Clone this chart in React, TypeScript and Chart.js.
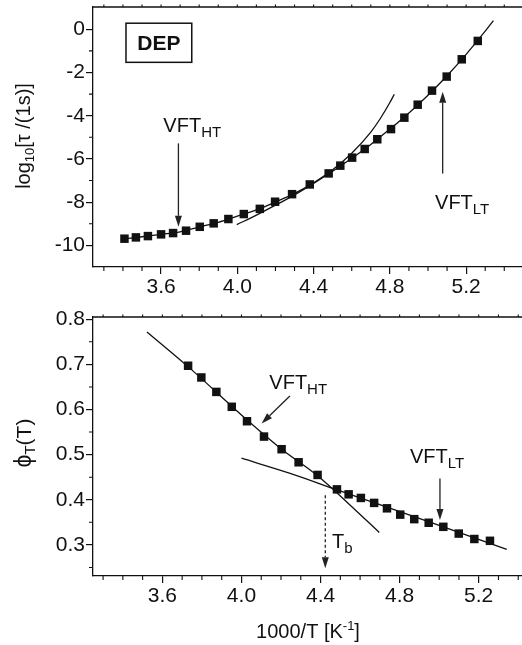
import React, { useEffect, useRef } from 'react';
import { Chart, registerables } from 'chart.js';
Chart.register(...registerables);

const FONT = '"Liberation Sans", Arial, Helvetica, sans-serif';
const INK = '#111';

// ---------- Top panel: log10 tau vs 1000/T ----------
const tauX = [3.408, 3.468, 3.531, 3.600, 3.663, 3.731, 3.803, 3.876, 3.953, 4.034, 4.118, 4.198, 4.287, 4.380, 4.479, 4.540, 4.602, 4.668, 4.734, 4.806, 4.876, 4.946, 5.021, 5.098, 5.177, 5.261];
const tauY = [-9.69, -9.63, -9.57, -9.49, -9.43, -9.32, -9.14, -8.98, -8.78, -8.55, -8.31, -7.98, -7.63, -7.18, -6.67, -6.31, -5.94, -5.54, -5.09, -4.62, -4.09, -3.49, -2.84, -2.19, -1.39, -0.54];
const vftHtTauX = [3.41, 3.5, 3.6, 3.7, 3.8, 3.9, 4.0, 4.1, 4.2, 4.3, 4.4, 4.5, 4.6, 4.7, 4.75, 4.8, 4.823];
const vftHtTauY = [-9.70, -9.60, -9.49, -9.37, -9.15, -8.93, -8.65, -8.36, -7.99, -7.59, -7.10, -6.50, -5.74, -4.76, -4.13, -3.39, -3.01];
const vftLtTauX = [3.997, 4.1, 4.2, 4.3, 4.4, 4.5, 4.6, 4.7, 4.8, 4.9, 5.0, 5.1, 5.2, 5.3, 5.343];
const vftLtTauY = [-9.04, -8.60, -8.14, -7.66, -7.13, -6.57, -5.97, -5.33, -4.62, -3.87, -3.05, -2.15, -1.16, -0.09, 0.40];
const topXMajor = [3.6, 4.0, 4.4, 4.8, 5.2];
const topXMinor = [3.3, 3.4, 3.5, 3.7, 3.8, 3.9, 4.1, 4.2, 4.3, 4.5, 4.6, 4.7, 4.9, 5.0, 5.1, 5.3, 5.4];
const topYMajor = [-10, -8, -6, -4, -2, 0];
const topYMinor = [-9, -7, -5, -3, -1];

// ---------- Bottom panel: phi_T(T) vs 1000/T ----------
const phiX = [3.730, 3.797, 3.873, 3.951, 4.028, 4.114, 4.203, 4.289, 4.385, 4.483, 4.542, 4.604, 4.671, 4.736, 4.803, 4.874, 4.947, 5.021, 5.099, 5.178, 5.257];
const phiY = [0.697, 0.671, 0.639, 0.606, 0.574, 0.540, 0.512, 0.483, 0.455, 0.423, 0.412, 0.404, 0.393, 0.381, 0.367, 0.357, 0.349, 0.340, 0.325, 0.313, 0.309];
const vftHtPhiX = [3.522, 3.73, 4.03, 4.2, 4.385, 4.55, 4.697];
const vftHtPhiY = [0.772, 0.695, 0.576, 0.513, 0.453, 0.388, 0.3275];
const vftLtPhiX = [4.0, 4.25, 4.464, 4.7, 5.0, 5.342];
const vftLtPhiY = [0.492, 0.458, 0.425, 0.389, 0.343, 0.290];
const botXMajor = [3.6, 4.0, 4.4, 4.8, 5.2];
const botXMinor = [3.3, 3.4, 3.5, 3.7, 3.8, 3.9, 4.1, 4.2, 4.3, 4.5, 4.6, 4.7, 4.9, 5.0, 5.1, 5.3, 5.4];
const botYMajor = [0.3, 0.4, 0.5, 0.6, 0.7, 0.8];
const botYMinor = [0.25, 0.35, 0.45, 0.55, 0.65, 0.75];

type Part = { t: string; size: number; dy?: number; bold?: boolean };

function drawRich(ctx: CanvasRenderingContext2D, x: number, y: number, parts: Part[], align: 'left' | 'center' = 'left') {
  ctx.save();
  ctx.textBaseline = 'alphabetic';
  ctx.textAlign = 'left';
  ctx.fillStyle = INK;
  let w = 0;
  for (const p of parts) {
    ctx.font = `${p.bold ? 'bold ' : ''}${p.size}px ${FONT}`;
    w += ctx.measureText(p.t).width;
  }
  let cx = align === 'center' ? x - w / 2 : x;
  for (const p of parts) {
    ctx.font = `${p.bold ? 'bold ' : ''}${p.size}px ${FONT}`;
    ctx.fillText(p.t, cx, y + (p.dy || 0));
    cx += ctx.measureText(p.t).width;
  }
  ctx.restore();
}

function arrow(ctx: CanvasRenderingContext2D, x1: number, y1: number, x2: number, y2: number, dashed = false) {
  const L = 11, H = 3.5;
  const dx = x2 - x1, dy = y2 - y1;
  const len = Math.hypot(dx, dy);
  const ux = dx / len, uy = dy / len;
  const bx = x2 - ux * L, by = y2 - uy * L;
  ctx.save();
  ctx.strokeStyle = '#222';
  ctx.fillStyle = '#222';
  ctx.lineWidth = 1.3;
  if (dashed) ctx.setLineDash([3, 2.5]);
  ctx.beginPath();
  ctx.moveTo(x1, y1);
  ctx.lineTo(bx, by);
  ctx.stroke();
  ctx.setLineDash([]);
  ctx.beginPath();
  ctx.moveTo(x2, y2);
  ctx.lineTo(bx - uy * H, by + ux * H);
  ctx.lineTo(bx + uy * H, by - ux * H);
  ctx.closePath();
  ctx.fill();
  ctx.restore();
}

function frameAndMinor(xMinor: number[], yMinor: number[], xAll: number[]) {
  return {
    id: 'frameMinor',
    afterDraw(chart: any) {
      const { ctx, chartArea: a, scales } = chart;
      const xs = scales.x, ys = scales.y;
      ctx.save();
      ctx.strokeStyle = INK;
      ctx.lineWidth = 1.3;
      ctx.beginPath();
      ctx.moveTo(a.left, a.top);
      ctx.lineTo(a.right + 2, a.top);
      ctx.stroke();
      ctx.lineWidth = 1.1;
      ctx.beginPath();
      for (const v of xMinor) {
        const p = xs.getPixelForValue(v);
        ctx.moveTo(p, a.bottom);
        ctx.lineTo(p, a.bottom + 4);
      }
      for (const v of xAll) {
        const p = xs.getPixelForValue(v);
        ctx.moveTo(p, a.top);
        ctx.lineTo(p, a.top - 2.5);
      }
      for (const v of yMinor) {
        const p = ys.getPixelForValue(v);
        ctx.moveTo(a.left, p);
        ctx.lineTo(a.left - 4, p);
      }
      ctx.stroke();
      ctx.restore();
    },
  };
}

function axisOpts(min: number, max: number, major: number[], decimals: number, size: number, isX: boolean) {
  return {
    type: 'linear',
    min,
    max,
    afterBuildTicks: (s: any) => {
      s.ticks = major.map((v) => ({ value: v }));
    },
    afterFit: (s: any) => {
      if (isX) s.height = size;
      else s.width = size;
      s.paddingLeft = 0;
      s.paddingRight = 0;
      s.paddingTop = 0;
      s.paddingBottom = 0;
    },
    ticks: {
      callback: (v: any) => Number(v).toFixed(decimals),
      font: { size: 21, family: FONT },
      color: INK,
      padding: 1,
      maxRotation: 0,
      autoSkip: false,
    },
    grid: {
      drawOnChartArea: false,
      drawTicks: true,
      tickLength: 7,
      color: INK,
      lineWidth: 1.2,
    },
    border: { display: true, color: INK, width: 1.3 },
  };
}

const pts = (xs: number[], ys: number[]) => xs.map((x, i) => ({ x, y: ys[i] }));

function datasets(px: number[], py: number[], ax: number[], ay: number[], bx: number[], by: number[]) {
  return [
    { data: pts(px, py), showLine: false, pointStyle: 'rect', pointRadius: 6, pointBackgroundColor: INK, pointBorderColor: INK, pointBorderWidth: 0, clip: false } as any,
    { data: pts(ax, ay), showLine: true, pointRadius: 0, borderColor: INK, borderWidth: 1.3, cubicInterpolationMode: 'monotone', clip: false } as any,
    { data: pts(bx, by), showLine: true, pointRadius: 0, borderColor: INK, borderWidth: 1.3, cubicInterpolationMode: 'monotone', clip: false } as any,
  ];
}

function TopChart() {
  const ref = useRef<HTMLCanvasElement>(null);
  useEffect(() => {
    const annot = {
      id: 'annotTop',
      afterDraw(chart: any) {
        const { ctx, scales } = chart;
        const X = (v: number) => scales.x.getPixelForValue(v);
        const Y = (v: number) => scales.y.getPixelForValue(v);
        ctx.save();
        ctx.strokeStyle = INK;
        ctx.lineWidth = 1.5;
        const bx1 = X(3.416), bx2 = X(3.761), by1 = Y(0.28), by2 = Y(-1.53);
        ctx.strokeRect(bx1, by1, bx2 - bx1, by2 - by1);
        ctx.restore();
        drawRich(ctx, (bx1 + bx2) / 2, (by1 + by2) / 2 + 7.5, [{ t: 'DEP', size: 21, bold: true }], 'center');
        drawRich(ctx, X(3.612), Y(-4.74), [{ t: 'VFT', size: 20 }, { t: 'HT', size: 15, dy: 5 }]);
        arrow(ctx, X(3.691), Y(-5.28), X(3.691), Y(-9.14));
        drawRich(ctx, X(5.037), Y(-8.33), [{ t: 'VFT', size: 20 }, { t: 'LT', size: 15, dy: 5 }]);
        arrow(ctx, X(5.077), Y(-6.67), X(5.077), Y(-2.89));
        ctx.save();
        ctx.translate(23, 136);
        ctx.rotate(-Math.PI / 2);
        drawRich(ctx, 0, 7, [{ t: 'log', size: 20 }, { t: '10', size: 13, dy: 4 }, { t: '[τ /(1s)]', size: 20 }], 'center');
        ctx.restore();
      },
    };
    const chart = new Chart(ref.current!, {
      type: 'line',
      data: { datasets: datasets(tauX, tauY, vftHtTauX, vftHtTauY, vftLtTauX, vftLtTauY) },
      options: {
        responsive: false,
        animation: false,
        devicePixelRatio: 1,
        layout: { autoPadding: false, padding: { top: 7, left: 0, right: 0, bottom: 0 } },
        plugins: { legend: { display: false }, tooltip: { enabled: false } },
        scales: {
          x: axisOpts(3.243, 5.493, topXMajor, 1, 33, true) as any,
          y: axisOpts(-11.0, 1.03, topYMajor, 0, 93, false) as any,
        },
      } as any,
      plugins: [frameAndMinor(topXMinor, topYMinor, [...topXMajor, ...topXMinor]), annot],
    });
    return () => chart.destroy();
  }, []);
  return <canvas ref={ref} width={522} height={300} style={{ position: 'absolute', left: 0, top: 0, display: 'block' }} />;
}

function BottomChart() {
  const ref = useRef<HTMLCanvasElement>(null);
  useEffect(() => {
    const annot = {
      id: 'annotBot',
      afterDraw(chart: any) {
        const { ctx, scales } = chart;
        const X = (v: number) => scales.x.getPixelForValue(v);
        const Y = (v: number) => scales.y.getPixelForValue(v);
        drawRich(ctx, X(4.141), Y(0.645), [{ t: 'VFT', size: 20 }, { t: 'HT', size: 15, dy: 5 }]);
        arrow(ctx, X(4.245), Y(0.630), X(4.102), Y(0.569));
        drawRich(ctx, X(4.852), Y(0.481), [{ t: 'VFT', size: 20 }, { t: 'LT', size: 15, dy: 5 }]);
        arrow(ctx, X(5.004), Y(0.447), X(5.004), Y(0.355));
        arrow(ctx, X(4.424), Y(0.410), X(4.424), Y(0.248), true);
        drawRich(ctx, X(4.458), Y(0.292), [{ t: 'T', size: 20 }, { t: 'b', size: 15, dy: 5 }]);
        drawRich(ctx, 308, 338, [{ t: '1000/T [K', size: 20 }, { t: '-1', size: 13, dy: -8 }, { t: ']', size: 20 }], 'center');
        ctx.save();
        ctx.translate(24, 143);
        ctx.rotate(-Math.PI / 2);
        drawRich(ctx, 0, 7, [{ t: 'ϕ', size: 23 }, { t: 'T', size: 15, dy: 4 }, { t: '(T)', size: 21 }], 'center');
        ctx.restore();
      },
    };
    const chart = new Chart(ref.current!, {
      type: 'line',
      data: { datasets: datasets(phiX, phiY, vftHtPhiX, vftHtPhiY, vftLtPhiX, vftLtPhiY) },
      options: {
        responsive: false,
        animation: false,
        devicePixelRatio: 1,
        layout: { autoPadding: false, padding: { top: 17, left: 0, right: 0, bottom: 0 } },
        plugins: { legend: { display: false }, tooltip: { enabled: false } },
        scales: {
          x: axisOpts(3.249, 5.419, botXMajor, 1, 69, true) as any,
          y: axisOpts(0.231, 0.805, botYMajor, 1, 93, false) as any,
        },
      } as any,
      plugins: [frameAndMinor(botXMinor, botYMinor, [...botXMajor, ...botXMinor]), annot],
    });
    return () => chart.destroy();
  }, []);
  return <canvas ref={ref} width={522} height={345} style={{ position: 'absolute', left: 0, top: 300, display: 'block' }} />;
}

export default function App() {
  return (
    <div style={{ position: 'absolute', left: 0, top: 0, width: 522, height: 645, background: '#fff', overflow: 'hidden' }}>
      <TopChart />
      <BottomChart />
    </div>
  );
}
